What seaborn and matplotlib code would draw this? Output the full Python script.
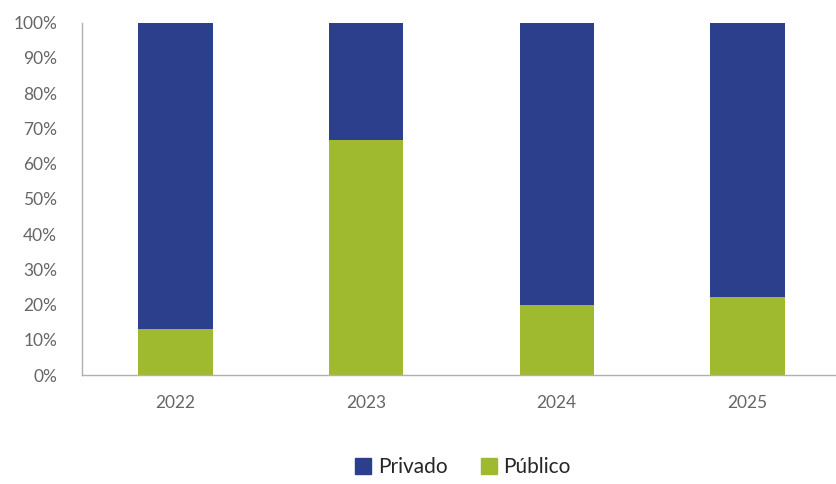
import pandas as pd
import seaborn as sns
import matplotlib.pyplot as plt
from matplotlib.patches import Patch

# Values (% of total)
years = ["2022", "2023", "2024", "2025"]
publico = [13.2, 66.8, 19.9, 22.3]
privado = [100 - p for p in publico]

df = pd.DataFrame({"Año": years, "Público": publico, "Privado": privado})
df["Total"] = df["Público"] + df["Privado"]

navy = "#2b3f8c"
green = "#9fba2e"
gray = "#666666"

sns.set_style("white")
plt.rcParams["font.family"] = ["Lato", "DejaVu Sans"]

fig = plt.figure(figsize=(8.37, 4.84), dpi=100)
ax = fig.add_axes([0.098, 0.225, 0.902, 0.728])

# stacked bars: full height in navy, público on top in green
sns.barplot(data=df, x="Año", y="Total", color=navy, width=0.39, saturation=1,
            linewidth=0, ax=ax)
sns.barplot(data=df, x="Año", y="Público", color=green, width=0.39, saturation=1,
            linewidth=0, ax=ax)

ax.set_ylim(0, 100)
ax.set_xlim(-0.49, 3.47)
ax.set_yticks(range(0, 101, 10))
ax.set_yticklabels([f"{v}%" for v in range(0, 101, 10)])
ax.set_xlabel("")
ax.set_ylabel("")
ax.tick_params(axis="both", colors=gray, labelsize=12.5, length=0)
ax.tick_params(axis="x", pad=14)
ax.tick_params(axis="y", pad=18)
for s in ["top", "right"]:
    ax.spines[s].set_visible(False)
for s in ["left", "bottom"]:
    ax.spines[s].set_color("#b0b0b0")
    ax.spines[s].set_linewidth(1)

handles = [Patch(color=navy, label="Privado"), Patch(color=green, label="Público")]
fig.legend(handles=handles, loc="center", bbox_to_anchor=(0.553, 0.035), ncol=2,
           frameon=False, fontsize=15, handlelength=0.8, handleheight=0.8,
           handletextpad=0.3, columnspacing=1.6)

fig.savefig("out.png", dpi=100)
